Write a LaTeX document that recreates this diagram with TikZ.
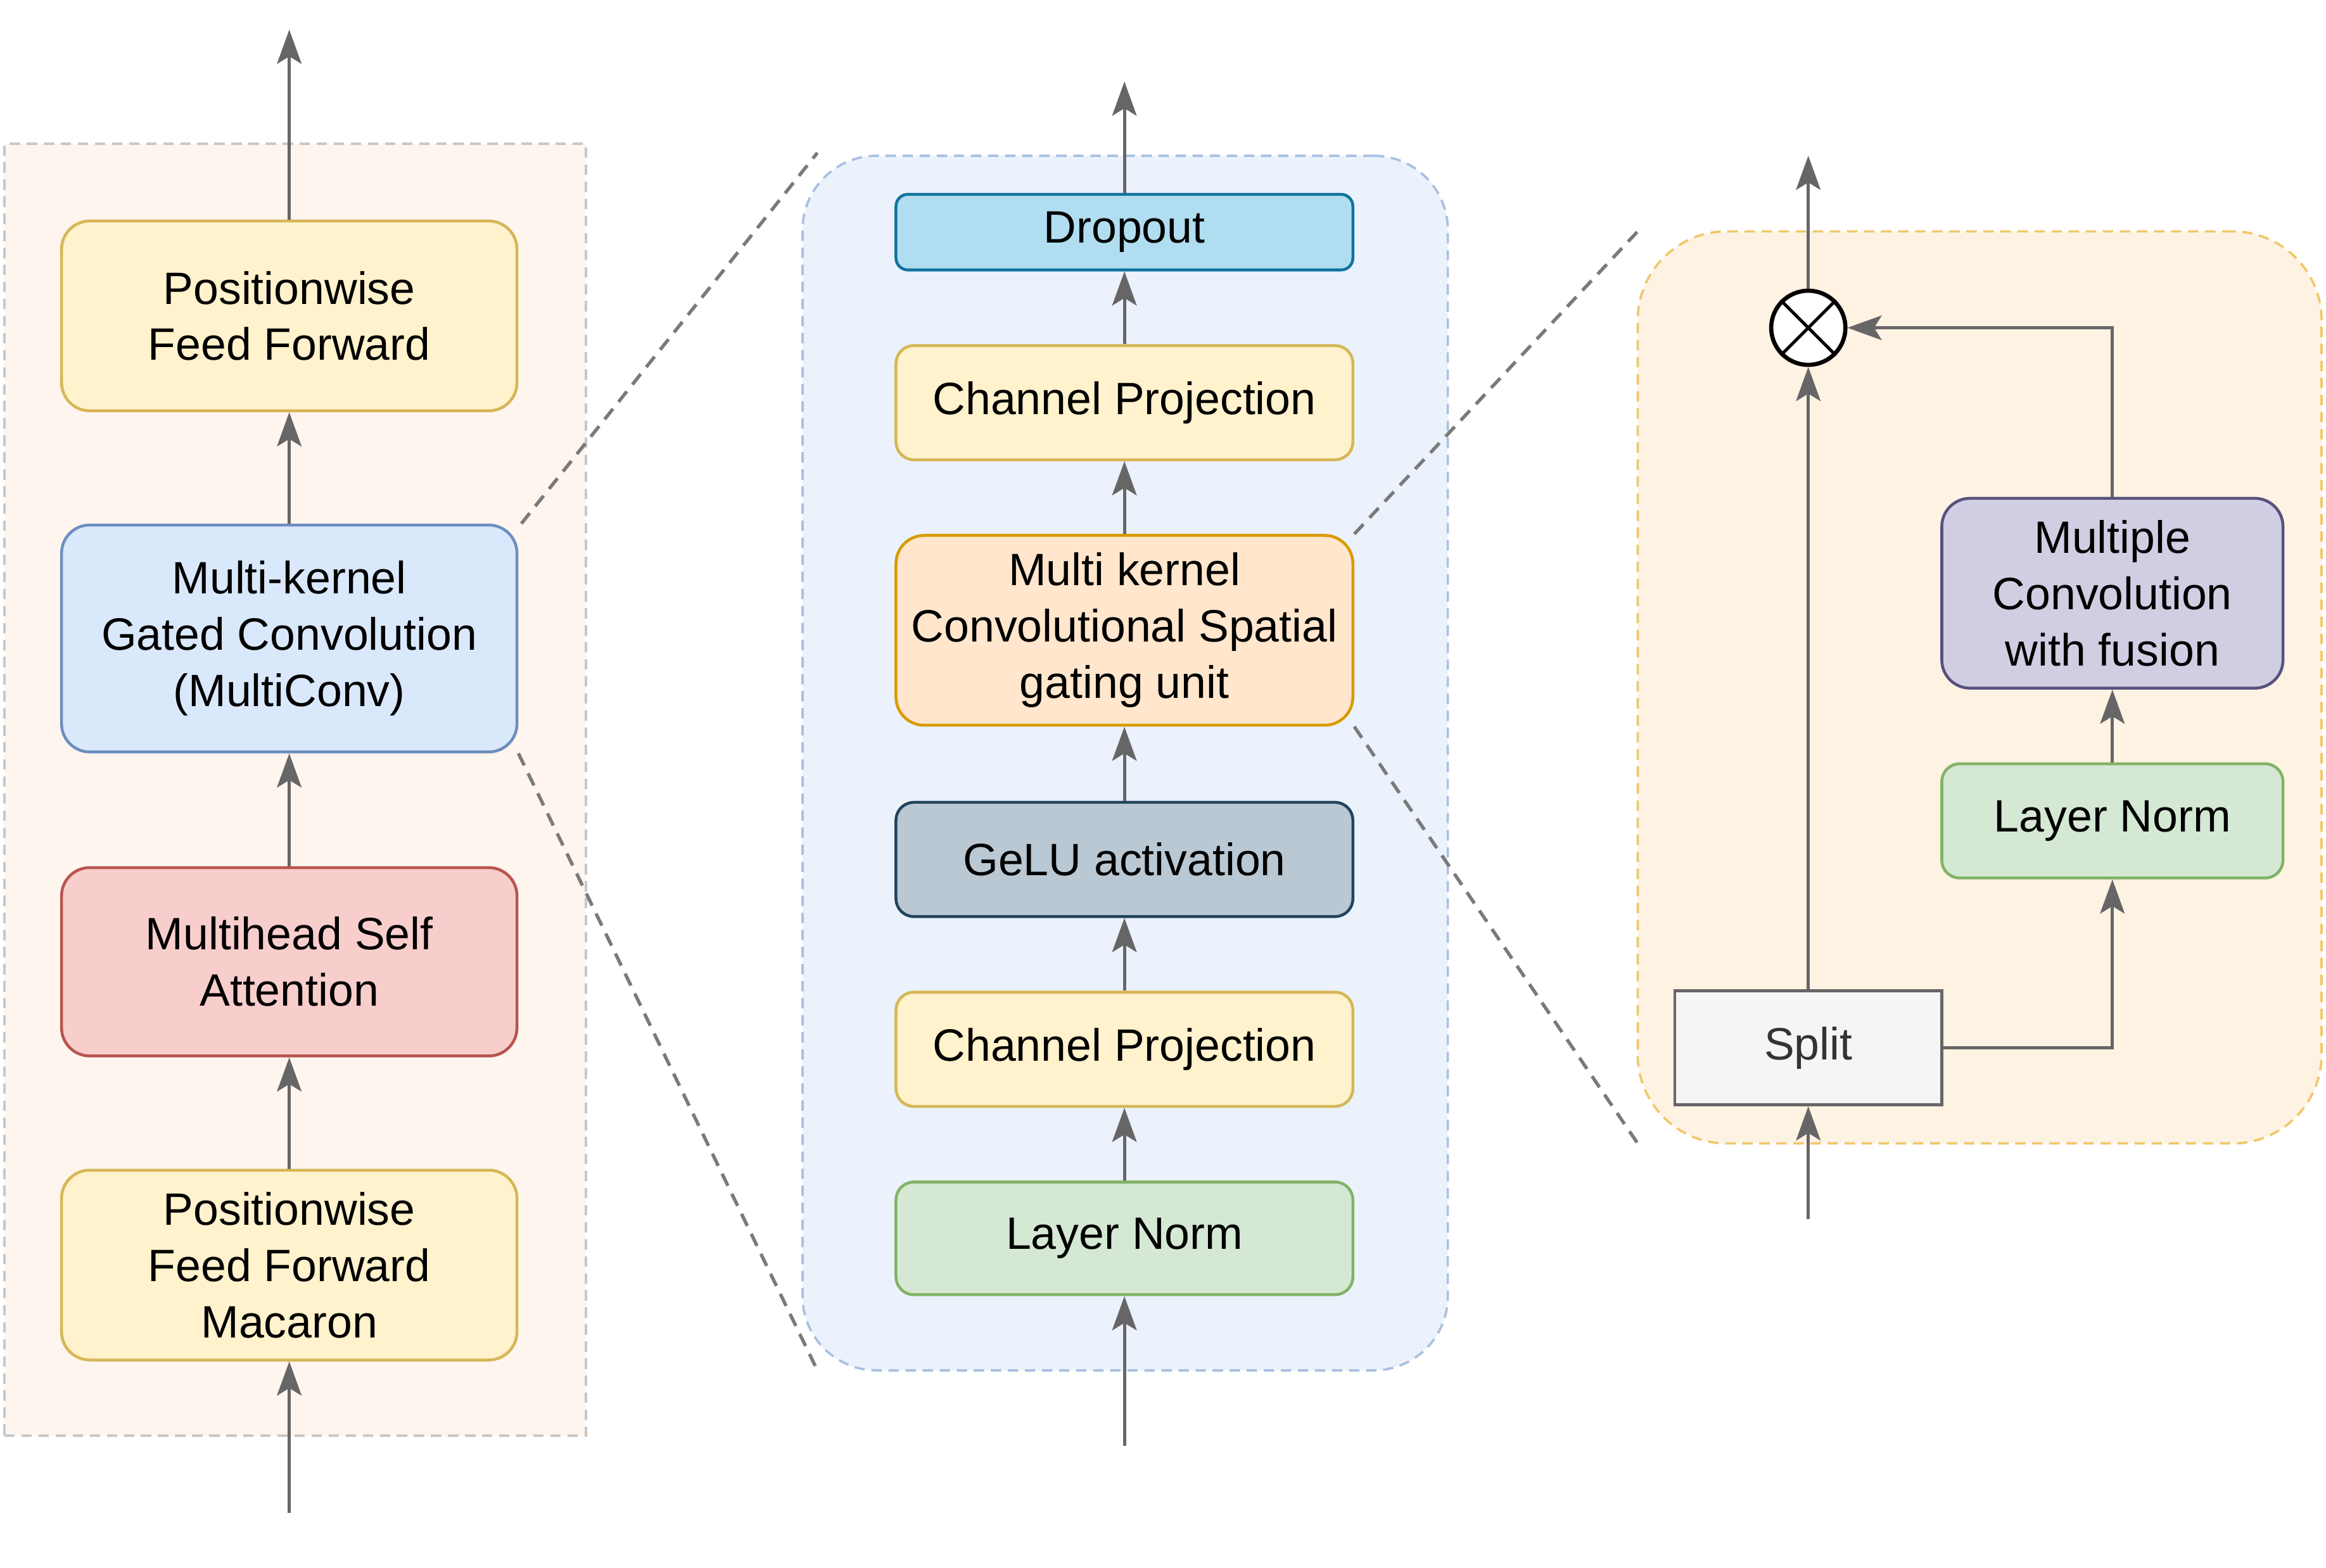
\documentclass[tikz,border=0pt]{standalone}
\usepackage{fontspec}
\setmainfont{Liberation Sans}
\usetikzlibrary{arrows.meta}
\begin{document}
\begin{tikzpicture}[x=0.1mm, y=-0.1mm,
  blk/.style = {draw, line width=0.55pt, rounded corners=1.9mm, minimum width=30.7mm, minimum height=12.8mm, inner sep=0pt, align=center, font=\fontsize{8.7}{10.8}\selectfont},
  thin/.style = {minimum height=7.7mm, rounded corners=1.2mm},
  flow/.style = {draw=arrgray, line width=0.6pt, -{Stealth[length=2.3mm, width=1.65mm, inset=0.5mm]}},
  zoomline/.style = {draw=zoomgray, line width=0.65pt, dash pattern=on 0.9mm off 0.6mm},
  panel/.style = {line width=0.45pt, dash pattern=on 0.7mm off 0.45mm, inner sep=0pt}]
\definecolor{arrgray}{HTML}{666666}
\definecolor{zoomgray}{HTML}{7A7A7A}
\definecolor{yelfill}{HTML}{FFF2CC}\definecolor{yeldraw}{HTML}{D6B656}
\definecolor{bluefill}{HTML}{DAE8FC}\definecolor{bluedraw}{HTML}{6C8EBF}
\definecolor{redfill}{HTML}{F8CECC}\definecolor{reddraw}{HTML}{B85450}
\definecolor{grnfill}{HTML}{D5E8D4}\definecolor{grndraw}{HTML}{82B366}
\definecolor{orgfill}{HTML}{FFE6CC}\definecolor{orgdraw}{HTML}{D79B00}
\definecolor{dropfill}{HTML}{B1DDF0}\definecolor{dropdraw}{HTML}{10739E}
\definecolor{gelufill}{HTML}{BAC8D3}\definecolor{geludraw}{HTML}{23445D}
\definecolor{purfill}{HTML}{D0CEE2}\definecolor{purdraw}{HTML}{56517E}
\definecolor{splitfill}{HTML}{F5F5F5}\definecolor{splitdraw}{HTML}{666666}
\useasboundingbox (0,0) rectangle (1568,1057);
\node[panel, draw=black!22, fill={rgb,255:red,254;green,245;blue,238}, minimum width=39.2mm, minimum height=87.1mm] (leftpanel) at (199,532.5) {};
\node[panel, draw={rgb,255:red,169;green,193;blue,226}, fill={rgb,255:red,235;green,242;blue,252}, rounded corners=5mm, minimum width=43.5mm, minimum height=81.9mm] (midpanel) at (758.5,514.5) {};
\node[panel, draw={rgb,255:red,240;green,200;blue,106}, fill={rgb,255:red,254;green,242;blue,227}, rounded corners=6mm, minimum width=46.1mm, minimum height=61.5mm] (rightpanel) at (1334.5,463.5) {};
\node[blk, fill=yelfill, draw=yeldraw] (pffa) at (195,213) {Positionwise\\Feed Forward};
\node[blk, fill=bluefill, draw=bluedraw, minimum height=15.3mm] (mconv) at (195,430.5) {Multi-kernel\\Gated Convolution\\(MultiConv)};
\node[blk, fill=redfill, draw=reddraw, minimum height=12.7mm] (mhsa) at (195,648.5) {Multihead Self\\Attention};
\node[blk, fill=yelfill, draw=yeldraw] (pffb) at (195,853) {Positionwise\\Feed Forward\\Macaron};
\coordinate (inL) at (195,1020);
\coordinate (outL) at (195,20);
\draw[flow] (inL) -- (pffb.south);
\foreach \a/\b in {pffb/mhsa, mhsa/mconv, mconv/pffa} \draw[flow] (\a) -- (\b);
\draw[flow] (pffa.north) -- (outL);
\node[blk, fill=dropfill, draw=dropdraw, minimum width=30.8mm, minimum height=5.1mm, rounded corners=0.8mm] (drop) at (758,156.5) {Dropout};
\node[blk, thin, fill=yelfill, draw=yeldraw, minimum width=30.8mm] (cpa) at (758,271.5) {Channel Projection};
\node[blk, fill=orgfill, draw=orgdraw, minimum width=30.8mm] (csgu) at (758,425) {Multi kernel\\Convolutional Spatial\\gating unit};
\node[blk, thin, fill=gelufill, draw=geludraw, minimum width=30.8mm] (gelu) at (758,579.5) {GeLU activation};
\node[blk, thin, fill=yelfill, draw=yeldraw, minimum width=30.8mm] (cpb) at (758,707.5) {Channel Projection};
\node[blk, thin, fill=grnfill, draw=grndraw, minimum width=30.8mm, minimum height=7.6mm] (lnm) at (758,835) {Layer Norm};
\coordinate (inM) at (758,975);
\coordinate (outM) at (758,55);
\draw[flow] (inM) -- (lnm.south);
\foreach \a/\b in {lnm/cpb, cpb/gelu, gelu/csgu, csgu/cpa, cpa/drop} \draw[flow] (\a) -- (\b);
\draw[flow] (drop.north) -- (outM);
\node[blk, fill=splitfill, draw=splitdraw, text={rgb,255:red,51;green,51;blue,51}, rounded corners=0pt, minimum width=18mm, minimum height=7.7mm] (split) at (1219,706.5) {Split};
\node[blk, thin, fill=grnfill, draw=grndraw, minimum width=23mm] (lnr) at (1424,553.5) {Layer Norm};
\node[blk, fill=purfill, draw=purdraw, minimum width=23mm] (mcf) at (1424,400) {Multiple\\Convolution\\with fusion};
\node[circle, draw=black, fill=white, line width=0.8pt, minimum size=5mm, inner sep=0pt] (mul) at (1219,221) {};
\draw[line width=0.6pt] (mul.north west) -- (mul.south east) (mul.north east) -- (mul.south west);
\coordinate (inR) at (1219,822);
\coordinate (outR) at (1219,105);
\draw[flow] (inR) -- (split.south);
\draw[flow] (split.north) -- (mul.south);
\draw[flow] (mul.north) -- (outR);
\draw[flow] (split.east) -| (lnr.south);
\draw[flow] (lnr) -- (mcf);
\draw[flow] (mcf.north) |- (mul.east);
\coordinate (zla) at (551,103);
\coordinate (zlb) at (551,924);
\coordinate (zra) at (1104,156);
\coordinate (zrb) at (1104,771);
\draw[zoomline] (mconv.north east) ++(2,0) -- (zla);
\draw[zoomline] (mconv.south east) -- (zlb);
\draw[zoomline] (csgu.north east) -- (zra);
\draw[zoomline] (csgu.south east) -- (zrb);
\end{tikzpicture}
\end{document}
